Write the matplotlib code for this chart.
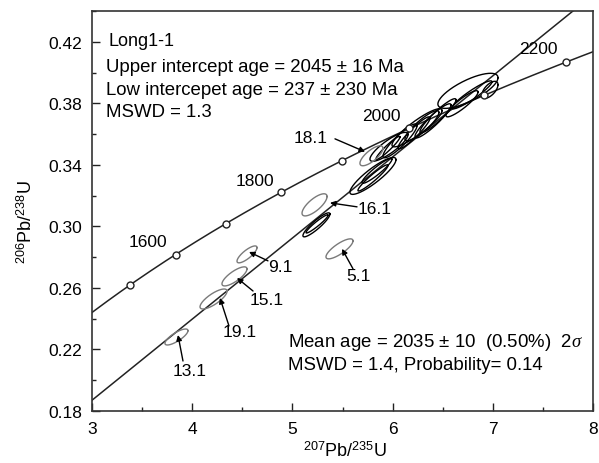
import numpy as np
import matplotlib
matplotlib.use("Agg")
import matplotlib.pyplot as plt
from matplotlib.ticker import FormatStrFormatter

plt.rcParams["font.family"] = ["Liberation Sans", "DejaVu Sans"]
plt.rcParams["mathtext.fontset"] = "custom"
plt.rcParams["mathtext.rm"] = "Liberation Sans"
plt.rcParams["mathtext.it"] = "Liberation Serif:italic"

# decay constants (1/yr)
L238 = 1.55125e-10
L235 = 9.8485e-10

# concordia age marks (Ma) and labelled ones
marker_ages = [1500, 1600, 1700, 1800, 1900, 2000, 2100, 2200]
label_ages = [1600, 1800, 2000, 2200]
label_x = [3.56, 4.63, 5.89, 7.45]
label_y = [0.290, 0.3296, 0.3719, 0.4155]

# discordia
disc_x = [3.0, 7.80]
disc_y = [0.187, 0.44]

# analyses used in the regression (2-sigma half widths)
blk_x = [5.240, 5.246, 5.804, 5.804, 5.844, 5.964, 5.954, 6.074, 6.214, 6.244, 6.293,
         6.403, 6.453, 6.693, 6.752, 6.792, 6.972]
blk_y = [0.3010, 0.3016, 0.3328, 0.3315, 0.3361, 0.3517, 0.3510, 0.3556, 0.3608, 0.3641, 0.3654,
         0.3686, 0.3719, 0.3797, 0.3881, 0.3855, 0.3888]
blk_hx = [0.135, 0.110, 0.230, 0.150, 0.150, 0.190, 0.120, 0.170, 0.160, 0.250, 0.170,
          0.180, 0.180, 0.160, 0.300, 0.200, 0.080]
blk_hy = [0.0078, 0.0059, 0.0120, 0.0085, 0.0081, 0.0094, 0.0075, 0.0110, 0.0104, 0.0124, 0.0098,
          0.0111, 0.0111, 0.0085, 0.0114, 0.0091, 0.0055]
blk_rho = [0.90, 0.95, 0.88, 0.95, 0.93, 0.85, 0.95, 0.90, 0.93, 0.90, 0.88,
           0.92, 0.93, 0.90, 0.75, 0.93, 0.60]

# rejected analyses (grey), with their spot labels
gry_name = ["13.1", "19.1", "15.1", "9.1", "5.1", "16.1", "18.1"]
gry_x = [3.843, 4.213, 4.422, 4.547, 5.470, 5.221, 5.789]
gry_y = [0.2281, 0.2528, 0.2675, 0.2818, 0.2854, 0.3140, 0.3459]
gry_hx = [0.115, 0.135, 0.125, 0.100, 0.135, 0.125, 0.115]
gry_hy = [0.0052, 0.0065, 0.0062, 0.0055, 0.0065, 0.0072, 0.0065]
gry_rho = [0.79, 0.78, 0.78, 0.80, 0.80, 0.75, 0.75]
name_x = [3.978, 4.477, 4.746, 4.876, 5.655, 5.824, 5.186]
name_y = [0.2060, 0.2314, 0.2522, 0.2737, 0.2678, 0.3114, 0.3580]
arr_tail_x = [3.908, 4.367, 4.607, 4.756, 5.605, 5.645, 5.425]
arr_tail_y = [0.2125, 0.2353, 0.2580, 0.2776, 0.2724, 0.3127, 0.3569]
arr_head_x = [3.858, 4.277, 4.447, 4.567, 5.495, 5.375, 5.725]
arr_head_y = [0.2294, 0.2535, 0.2665, 0.2834, 0.2854, 0.3153, 0.3485]

x_major = [3, 4, 5, 6, 7, 8]
x_minor = [3.5, 4.5, 5.5, 6.5, 7.5]
y_major = [0.18, 0.22, 0.26, 0.30, 0.34, 0.38, 0.42]
y_minor = [0.20, 0.24, 0.28, 0.32, 0.36, 0.40, 0.44]


def concordia(t_ma):
    t = np.asarray(t_ma) * 1e6
    return np.exp(L235 * t) - 1, np.exp(L238 * t) - 1


def ellipse(cx, cy, hx, hy, rho):
    a = np.linspace(0, 2 * np.pi, 240)
    return cx + hx * np.cos(a), cy + hy * (rho * np.cos(a) + np.sqrt(1 - rho ** 2) * np.sin(a))


fig = plt.figure(figsize=(5.99, 4.64), dpi=100)
ax = fig.add_axes([92 / 599, 1 - 412 / 464, 501 / 599, 400 / 464])

t_curve = np.linspace(1380, 2240, 600)
cx, cy = concordia(t_curve)
ax.plot(cx, cy, color="#222222", lw=1.1, zorder=2)
mx, my = concordia(marker_ages)
ax.plot(mx, my, "o", ms=5, mfc="white", mec="#222222", mew=1.0, zorder=4)
for age, lx, ly in zip(label_ages, label_x, label_y):
    ax.text(lx, ly, str(age), fontsize=12.5, ha="center", va="center", zorder=5)

ax.plot(disc_x, disc_y, color="#222222", lw=1.1, zorder=2)

for x, y, hx, hy, r in zip(blk_x, blk_y, blk_hx, blk_hy, blk_rho):
    ex, ey = ellipse(x, y, hx, hy, r)
    ax.plot(ex, ey, color="black", lw=1.0, zorder=3)

for x, y, hx, hy, r in zip(gry_x, gry_y, gry_hx, gry_hy, gry_rho):
    ex, ey = ellipse(x, y, hx, hy, r)
    ax.plot(ex, ey, color="#7a7a7a", lw=1.0, zorder=3)

for name, nx, ny, tx, ty, hx, hy in zip(gry_name, name_x, name_y, arr_tail_x, arr_tail_y,
                                        arr_head_x, arr_head_y):
    ax.text(nx, ny, name, fontsize=12.5, ha="center", va="center", zorder=5)
    ax.annotate("", xy=(hx, hy), xytext=(tx, ty),
                arrowprops=dict(arrowstyle="-|>", color="black", lw=1.0,
                                mutation_scale=8, shrinkA=0, shrinkB=0), zorder=5)

ax.text(3.16, 0.4207, "Long1-1", fontsize=13, ha="left", va="center")
ax.text(3.14, 0.4037, "Upper intercept age = 2045 ± 16 Ma", fontsize=13.4, ha="left", va="center")
ax.text(3.14, 0.3888, "Low intercepet age = 237 ± 230 Ma", fontsize=13.4, ha="left", va="center")
ax.text(3.14, 0.3745, "MSWD = 1.3", fontsize=13.4, ha="left", va="center")
ax.text(4.96, 0.2249, "Mean age = 2035 ± 10  (0.50%)  2$\\mathit{\\sigma}$", fontsize=13.4,
        ha="left", va="center")
ax.text(4.96, 0.2099, "MSWD = 1.4, Probability= 0.14", fontsize=13.4, ha="left", va="center")

ax.set_xlim(3, 8)
ax.set_ylim(0.18, 0.44)
ax.set_xticks(x_major)
ax.set_xticks(x_minor, minor=True)
ax.set_yticks(y_major)
ax.set_yticks(y_minor, minor=True)
ax.yaxis.set_major_formatter(FormatStrFormatter("%.2f"))
ax.tick_params(which="both", direction="in", top=False, right=False, width=1.0,
               labelsize=12.5, color="#222222")
ax.tick_params(which="major", length=6)
ax.tick_params(axis="x", which="major", pad=7)
ax.tick_params(axis="y", which="major", pad=7)
ax.tick_params(which="minor", length=3)
for s in ax.spines.values():
    s.set_linewidth(1.2)
    s.set_color("#333333")

ax.set_xlabel("$^{207}$Pb/$^{235}$U", fontsize=13)
ax.set_ylabel("$^{206}$Pb/$^{238}$U", fontsize=13)
ax.xaxis.set_label_coords(0.505, -0.075)
ax.yaxis.set_label_coords(-0.112, 0.475)

fig.savefig("out.png", dpi=100)
